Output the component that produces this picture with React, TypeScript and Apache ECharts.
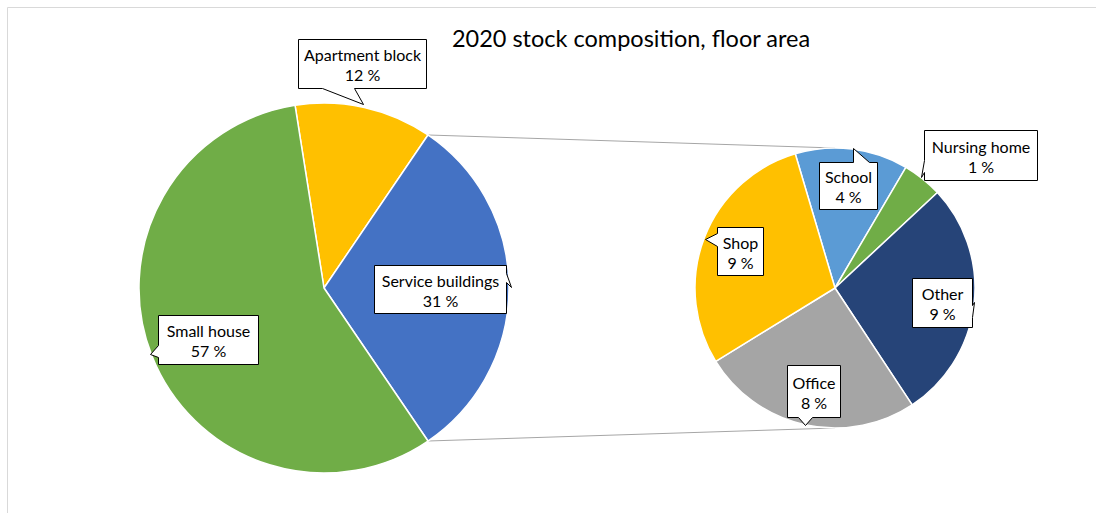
import React, { useEffect, useRef } from "react";
import * as echarts from "echarts";

// ---- data ----
const titleText = "2020 stock composition, floor area";
const mainNames = ["Apartment block", "Service buildings", "Small house"];
const mainValues = [12, 31, 57];
const mainColors = ["#FFC000", "#4472C4", "#70AD47"];
const subNames = ["School", "Nursing home", "Other", "Office", "Shop"];
const subValues = [4.04, 1.43, 8.57, 7.91, 9.05];
const subColors = ["#5B9BD5", "#70AD47", "#264478", "#A5A5A5", "#FFC000"];

// ---- layout ----
const MAIN = { cx: 324, cy: 288, r: 185 };
const SUB = { cx: 835, cy: 288, r: 140 };
const FONT = "Lato, 'Open Sans', sans-serif";

type Callout = {
  series: number;
  idx: number;
  box: [number, number, number, number];
  side: "top" | "right" | "bottom" | "left";
  base: [number, number];
  tip: [number, number];
};

const callouts: Callout[] = [
  { series: 0, idx: 0, box: [298, 39, 426, 88], side: "bottom", base: [322, 354], tip: [363, 104] },
  { series: 0, idx: 1, box: [374, 265, 506, 313], side: "right", base: [273, 282], tip: [511, 287] },
  { series: 0, idx: 2, box: [158, 315, 258, 364], side: "left", base: [345, 357], tip: [150, 354] },
  { series: 1, idx: 0, box: [819, 162, 877, 209], side: "top", base: [853, 869], tip: [853, 148] },
  { series: 1, idx: 1, box: [924, 130, 1037, 180], side: "left", base: [160, 172], tip: [921, 177] },
  { series: 1, idx: 2, box: [912, 278, 972, 327], side: "right", base: [305, 317], tip: [974, 302] },
  { series: 1, idx: 3, box: [787, 365, 840, 417], side: "bottom", base: [798, 812], tip: [805, 425] },
  { series: 1, idx: 4, box: [717, 227, 763, 275], side: "left", base: [233, 246], tip: [705, 239] },
];

function calloutPoints(c: Callout): number[][] {
  const [x0, y0, x1, y1] = c.box.map((v) => v + 0.5) as [number, number, number, number];
  const [b0, b1] = c.base.map((v) => v + 0.5);
  const tip = [c.tip[0] + 0.5, c.tip[1] + 0.5];
  const p: number[][] = [[x0, y0]];
  if (c.side === "top") p.push([b0, y0], tip, [b1, y0]);
  p.push([x1, y0]);
  if (c.side === "right") p.push([x1, b0], tip, [x1, b1]);
  p.push([x1, y1]);
  if (c.side === "bottom") p.push([b1, y1], tip, [b0, y1]);
  p.push([x0, y1]);
  if (c.side === "left") p.push([x0, b1], tip, [x0, b0]);
  return p;
}

export default function App() {
  const ref = useRef<HTMLDivElement>(null);
  useEffect(() => {
    if (!ref.current) return;
    const chart = echarts.init(ref.current, undefined, { renderer: "svg" });

    const mainTotal = mainValues.reduce((a, b) => a + b, 0);
    // main pie rotated so the service slice is centred at 3 o'clock
    const mainStart = ((mainValues[0] + mainValues[1] / 2) / mainTotal) * 360;
    const subStart = 106.5;

    // connector lines from the service slice edges to top/bottom of the secondary pie
    const a1 = ((mainStart - (mainValues[0] / mainTotal) * 360) * Math.PI) / 180;
    const a2 = ((mainStart - ((mainValues[0] + mainValues[1]) / mainTotal) * 360) * Math.PI) / 180;
    const p1 = [MAIN.cx + MAIN.r * Math.cos(a1), MAIN.cy - MAIN.r * Math.sin(a1)];
    const p2 = [MAIN.cx + MAIN.r * Math.cos(a2), MAIN.cy - MAIN.r * Math.sin(a2)];

    const names = [mainNames, subNames];
    const vals = [mainValues, subValues];

    const graphics: any[] = [
      {
        type: "rect",
        z: 0,
        shape: { x: 7.5, y: 7.5, width: 1200, height: 600 },
        style: { fill: "none", stroke: "#D9D9D9", lineWidth: 1 },
        silent: true,
      },
      {
        type: "line",
        z: 1,
        shape: { x1: p1[0], y1: p1[1], x2: SUB.cx, y2: SUB.cy - SUB.r },
        style: { stroke: "#A6A6A6", lineWidth: 1 },
      },
      {
        type: "line",
        z: 1,
        shape: { x1: p2[0], y1: p2[1], x2: SUB.cx, y2: SUB.cy + SUB.r },
        style: { stroke: "#A6A6A6", lineWidth: 1 },
      },
    ];
    callouts.forEach((c) => {
      const name = names[c.series][c.idx];
      const v = vals[c.series][c.idx];
      graphics.push({
        type: "polygon",
        z: 10,
        shape: { points: calloutPoints(c) },
        style: { fill: "#FFFFFF", stroke: "#000000", lineWidth: 1 },
      });
      graphics.push({
        type: "text",
        z: 11,
        x: (c.box[0] + c.box[2]) / 2 + 0.5,
        y: (c.box[1] + c.box[3]) / 2 + 1,
        style: {
          text: `${name}\n${Math.round(v)} %`,
          align: "center",
          verticalAlign: "middle",
          fontFamily: FONT,
          fontSize: 16,
          lineHeight: 20,
          fill: "#000000",
        },
      });
    });

    chart.setOption({
      animation: false,
      backgroundColor: "#FFFFFF",
      title: {
        text: titleText,
        left: 626,
        top: 21,
        textAlign: "center",
        textStyle: { fontFamily: FONT, fontSize: 23.5, fontWeight: "normal", color: "#000000" },
      },
      graphic: { elements: graphics },
      series: [
        {
          type: "pie",
          center: [MAIN.cx, MAIN.cy],
          radius: [0, MAIN.r],
          startAngle: mainStart,
          clockwise: true,
          label: { show: false },
          labelLine: { show: false },
          itemStyle: { borderColor: "#FFFFFF", borderWidth: 1.5 },
          data: mainNames.map((n, i) => ({ name: n, value: mainValues[i], itemStyle: { color: mainColors[i] } })),
        },
        {
          type: "pie",
          center: [SUB.cx, SUB.cy],
          radius: [0, SUB.r],
          startAngle: subStart,
          clockwise: true,
          label: { show: false },
          labelLine: { show: false },
          itemStyle: { borderColor: "#FFFFFF", borderWidth: 1.5 },
          data: subNames.map((n, i) => ({ name: n, value: subValues[i], itemStyle: { color: subColors[i] } })),
        },
      ],
    });
    return () => chart.dispose();
  }, []);
  return (
    <div
      ref={ref}
      style={{ position: "absolute", left: 0, top: 0, width: 1096, height: 513 }}
    />
  );
}
